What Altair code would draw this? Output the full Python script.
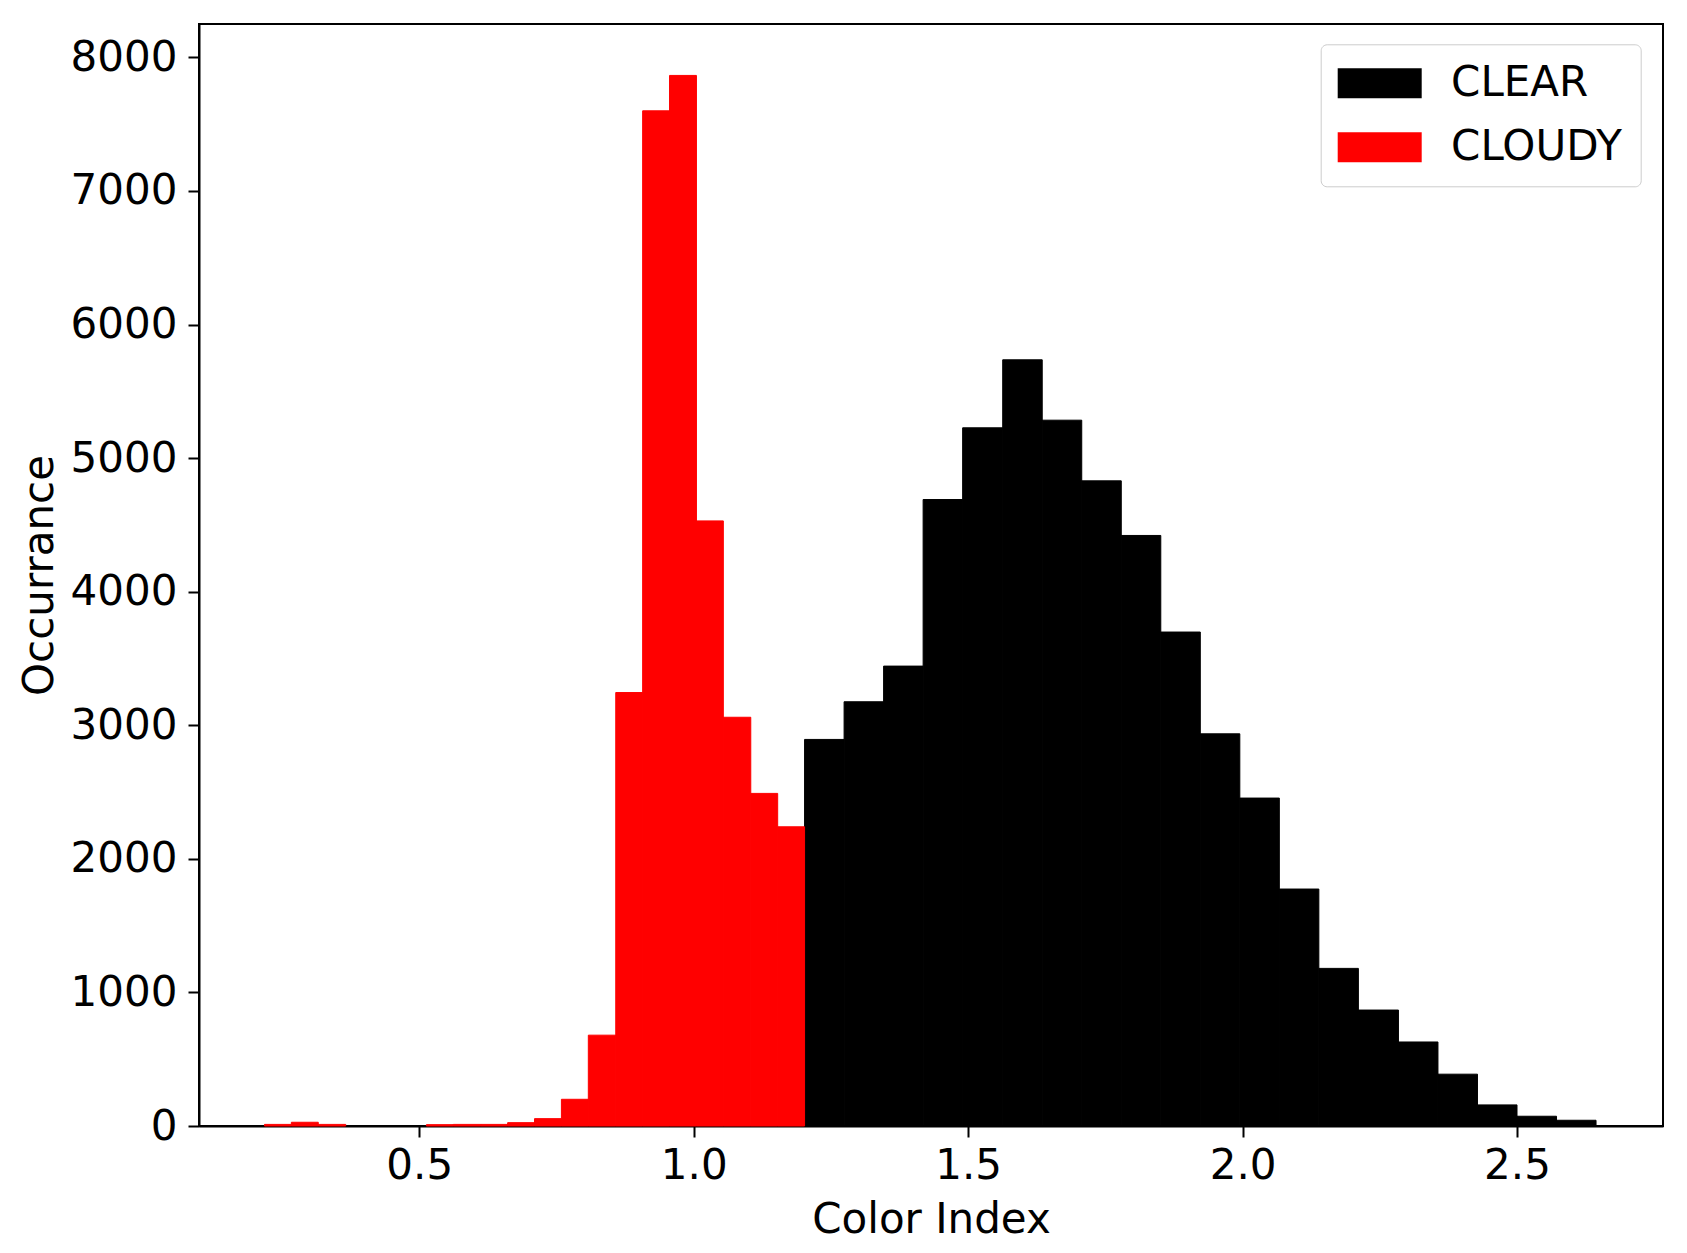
import altair as alt
import pandas as pd

# ---- data ----
series_names = ["CLEAR", "CLOUDY"]
series_colors = ["#000000", "#ff0000"]

clear_edges = [1.202, 1.274, 1.346, 1.418, 1.490, 1.563, 1.635, 1.707, 1.779, 1.851,
               1.923, 1.995, 2.067, 2.139, 2.211, 2.284, 2.356, 2.428, 2.500, 2.572, 2.644]
clear_counts = [2894, 3176, 3443, 4690, 5227, 5736, 5284, 4830, 4421, 3698,
                2936, 2455, 1774, 1180, 868, 629, 388, 158, 73, 43]

cloudy_edges = [0.218, 0.267, 0.316, 0.366, 0.415, 0.464, 0.513, 0.562, 0.612, 0.661,
                0.710, 0.759, 0.808, 0.858, 0.907, 0.956, 1.005, 1.054, 1.104, 1.153, 1.202]
cloudy_counts = [12, 28, 12, 0, 0, 0, 10, 12, 12, 25,
                 55, 200, 680, 3245, 7600, 7865, 4530, 3060, 2490, 2240]

x_ticks = [0.5, 1.0, 1.5, 2.0, 2.5]
y_ticks = [0, 1000, 2000, 3000, 4000, 5000, 6000, 7000, 8000]
x_domain = [0.0987, 2.766]
y_domain = [0, 8250]

rows = []
for name, edges, counts in [("CLEAR", clear_edges, clear_counts),
                            ("CLOUDY", cloudy_edges, cloudy_counts)]:
    for i, c in enumerate(counts):
        if c > 0:  # empty bins draw nothing
            rows.append({"lo": edges[i], "hi": edges[i + 1], "count": c,
                         "base": 0, "series": name})
df = pd.DataFrame(rows)

FONT = "DejaVu Sans"
FS = 42
legend_symbol = "M-1,-1H4.6V1H-1Z"
color_scale = alt.Scale(domain=series_names, range=series_colors)

chart = alt.Chart(df).mark_rect(strokeWidth=1).encode(
    x=alt.X("lo:Q",
            scale=alt.Scale(domain=x_domain, nice=False, zero=False),
            axis=alt.Axis(values=x_ticks, format=".1f", title="Color Index",
                          labelFontSize=FS, titleFontSize=FS, labelFont=FONT, titleFont=FONT,
                          titleFontWeight="normal", labelColor="black", titleColor="black",
                          tickSize=11, tickWidth=2, tickColor="black",
                          domainWidth=2, domainColor="black", grid=False,
                          labelPadding=8, titlePadding=13, labelFlush=False)),
    x2="hi:Q",
    y=alt.Y("count:Q",
            scale=alt.Scale(domain=y_domain, nice=False),
            axis=alt.Axis(values=y_ticks, format="d", title="Occurrance",
                          labelFontSize=FS, titleFontSize=FS, labelFont=FONT, titleFont=FONT,
                          titleFontWeight="normal", labelColor="black", titleColor="black",
                          tickSize=11, tickWidth=2, tickColor="black",
                          domainWidth=2, domainColor="black", grid=False,
                          labelPadding=11, titlePadding=9, labelFlush=False)),
    y2="base:Q",
    stroke=alt.Stroke("series:N", scale=color_scale, legend=None),
    color=alt.Color("series:N", scale=color_scale,
                    legend=alt.Legend(title=None, orient="none", legendX=1121.7, legendY=20.3,
                                      fillColor="white", strokeColor="#cccccc",
                                      cornerRadius=6, padding=18,
                                      symbolType=legend_symbol, symbolSize=900,
                                      symbolStrokeWidth=0, symbolOpacity=1, symbolOffset=-7,
                                      labelFont=FONT, labelFontSize=FS, labelColor="black",
                                      labelOffset=77.4, rowPadding=22, labelLimit=400)),
).properties(
    width=1464,
    height=1102,
    autosize=alt.AutoSizeParams(type="none"),
    padding={"left": 191, "top": 16, "right": 16, "bottom": 119},
).configure_view(stroke="black", strokeWidth=2)

chart.save("out.html", embed_options={"renderer": "svg", "actions": False})
